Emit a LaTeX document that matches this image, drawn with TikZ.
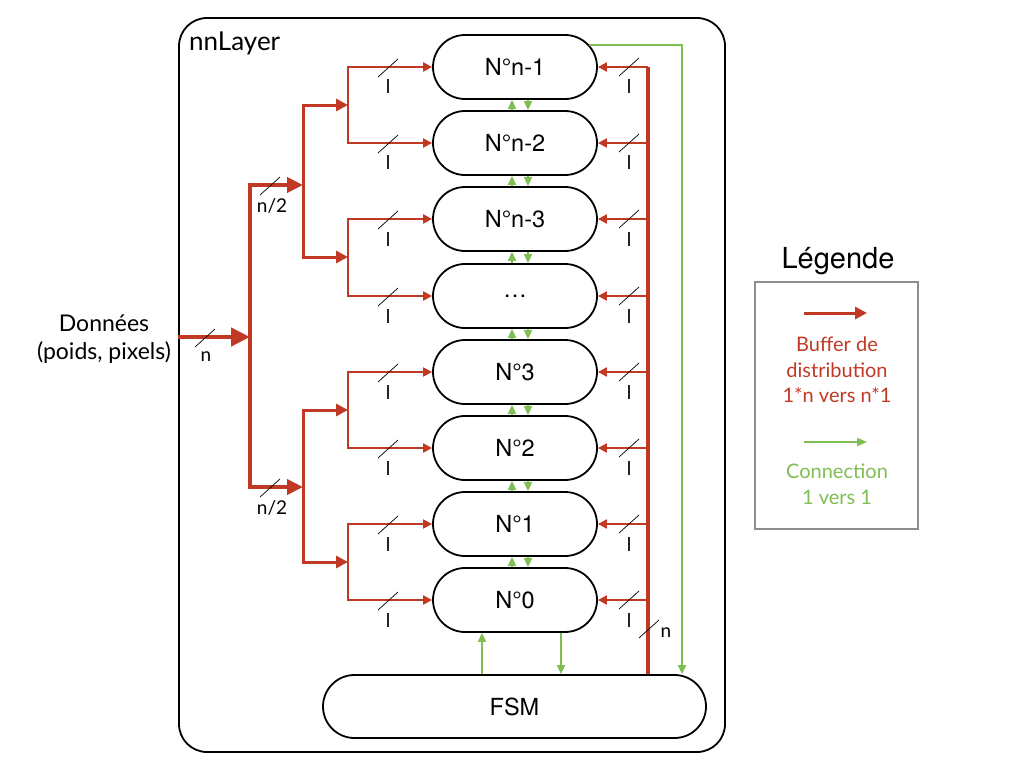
\documentclass[tikz,border=0pt]{standalone}
\usepackage{fontspec}
\setmainfont{Lato}
\newfontfamily\heros{TeX Gyre Heros}
\usetikzlibrary{arrows.meta,calc}
\definecolor{rd}{RGB}{192,57,36}
\definecolor{gr}{RGB}{126,190,82}
\definecolor{gy}{RGB}{140,140,145}
\tikzset{
  neuron/.style={draw, line width=1.8pt, rounded corners=32pt, minimum width=164pt, minimum height=64pt, inner sep=0pt, font=\heros\fontsize{23.5}{23.5}\selectfont},
  rin/.style={draw=rd, line width=4.5pt, -{Triangle[length=19pt,width=18pt]}},
  rone/.style={draw=rd, line width=4pt, -{Triangle[length=16pt,width=15pt]}},
  rtwo/.style={draw=rd, line width=3pt, -{Triangle[length=12pt,width=12pt]}},
  rthree/.style={draw=rd, line width=2pt, -{Triangle[length=9pt,width=9pt]}},
  busline/.style={draw=rd, line width=3.5pt},
  garr/.style={draw=gr, line width=1.8pt, -{Triangle[length=9pt,width=8pt]}},
  slash/.style={draw=black, line width=0.7pt},
  lbl/.style={font=\fontsize{19}{19}\selectfont, inner sep=0pt},
}
\newcommand\slsh[1]{\draw[slash] (#1) +(-10,9) -- +(10,-9);}
\begin{document}
\begin{tikzpicture}[x=1pt,y=-1pt]
\useasboundingbox (0,0) rectangle (1024,768);
% outer box
\node[draw, line width=1.8pt, rounded corners=28pt, minimum width=546pt, minimum height=734pt, inner sep=0pt] (outer) at (452,385) {};
\node[anchor=west, font=\fontsize{26}{26}\selectfont, inner sep=0pt] (title) at (189,43) {nnLayer};
% neurons
\foreach \nm/\yy/\lab in {a/67/N°n-1, b/143/N°n-2, c/219/N°n-3, d/296/…, e/372/N°3, f/448/N°2, g/524/N°1, h/600/N°0}
  \node[neuron] (\nm) at (515,\yy) {\lab};
\node[neuron, minimum width=383pt, minimum height=63pt, rounded corners=31.5pt] (fsm) at (514.5,706.5) {FSM};
% green inter-neuron
\foreach \u/\l in {a/b,b/c,c/d,d/e,e/f,f/g,g/h}{
  \draw[garr] ($(\l.north)+(-3,0)$) -- ($(\u.south)+(-3,0)$);
  \draw[garr] ($(\u.south)+(13,0)$) -- ($(\l.north)+(13,0)$);
}
\coordinate (gu) at ($(h.south)+(-33,0)$);
\coordinate (gd) at ($(h.south)+(46,0)$);
\draw[garr] (gu |- fsm.north) -- (gu);
\draw[garr] (gd) -- (gd |- fsm.north);
\coordinate (gs) at ($(a.east)+(-9,-22)$);
\coordinate (gx) at (682,0);
\draw[garr] (gs) -- (gs -| gx) -- (gx |- fsm.north);
% right bus
\coordinate (bx) at (648,0);
\draw[busline] (bx |- fsm.north) -- (bx |- a.east);
\foreach \nm in {a,b,c,d,e,f,g,h}
  \draw[rthree] (bx |- \nm.east) -- (\nm.east);
\foreach \yy in {67,143,219,296,372,448,524,600}{
  \slsh{629,\yy}
  \node[lbl] at (629,\yy+20) {l};
}
\slsh{649,629}
\node[lbl] (nbus) at (666,633) {n};
% left tree
\node[align=center, font=\fontsize{23}{28}\selectfont] (data) at (104,339) {Données\\(poids, pixels)};
\coordinate (j0) at (250,337);
\coordinate (k1) at (303,185);
\coordinate (k2) at (303,487);
\coordinate (m1) at (348,105);
\coordinate (m2) at (348,257);
\coordinate (m3) at (348,410);
\coordinate (m4) at (348,562);
\draw[rin] (outer.west |- j0) -- (j0);
\draw[rone] (j0) |- (k1);
\draw[rone] (j0) |- (k2);
\draw[rtwo] (k1) |- (m1);
\draw[rtwo] (k1) |- (m2);
\draw[rtwo] (k2) |- (m3);
\draw[rtwo] (k2) |- (m4);
\draw[rthree] (m1) |- (a.west);
\draw[rthree] (m1) |- (b.west);
\draw[rthree] (m2) |- (c.west);
\draw[rthree] (m2) |- (d.west);
\draw[rthree] (m3) |- (e.west);
\draw[rthree] (m3) |- (f.west);
\draw[rthree] (m4) |- (g.west);
\draw[rthree] (m4) |- (h.west);
\foreach \yy in {67,143,219,296,372,448,524,600}{
  \slsh{388,\yy+1}
  \node[lbl] at (388,\yy+20) {l};
}
\slsh{205,338}
\node[lbl] (nin) at (206,357) {n};
\slsh{270,186}
\node[lbl] (nh1) at (272,206) {n/2};
\slsh{270,488}
\node[lbl] (nh2) at (272,508) {n/2};
% legend
\node[font=\heros\fontsize{29}{29}\selectfont] (legt) at (838,261) {Légende};
\node[draw=gy, line width=1.5pt, minimum width=163pt, minimum height=247pt, inner sep=0pt] (leg) at (836.5,405.5) {};
\coordinate (lr1) at (804,313);
\coordinate (lr2) at (867,313);
\draw[draw=rd, line width=3pt, -{Triangle[length=12pt,width=12pt]}] (lr1) -- (lr2);
\node[text=rd, align=center, font=\fontsize{20}{25.5}\selectfont] (legr) at (837,370) {Buffer de\\distribution\\1*n vers n*1};
\coordinate (lg1) at (804,442);
\coordinate (lg2) at (867,442);
\draw[draw=gr, line width=1.8pt, -{Triangle[length=10pt,width=8pt]}] (lg1) -- (lg2);
\node[text=gr, align=center, font=\fontsize{20}{25.5}\selectfont] (legg) at (837,484) {Connection\\1 vers 1};
\end{tikzpicture}
\end{document}
